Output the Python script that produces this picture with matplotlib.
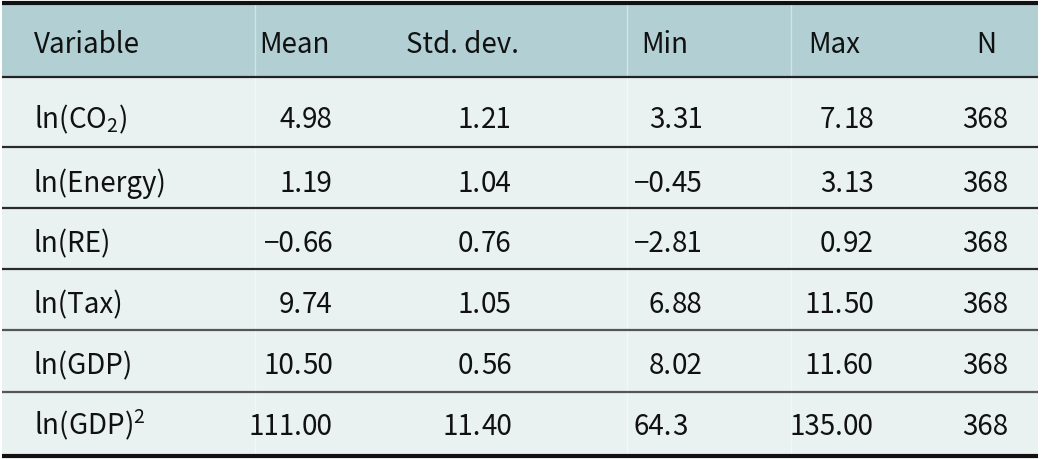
import matplotlib
matplotlib.use("Agg")
import matplotlib.pyplot as plt

plt.rcParams['font.family'] = ['Noto Sans CJK SC', 'DejaVu Sans']
plt.rcParams['mathtext.fontset'] = 'custom'
plt.rcParams['mathtext.rm'] = 'Noto Sans CJK SC'
plt.rcParams['mathtext.default'] = 'rm'

# table content
variables = ["ln(CO$_2$)", "ln(Energy)", "ln(RE)", "ln(Tax)", "ln(GDP)", "ln(GDP)$^2$"]
mean = ["4.98", "1.19", "\u22120.66", "9.74", "10.50", "111.00"]
std_dev = ["1.21", "1.04", "0.76", "1.05", "0.56", "11.40"]
min_vals = ["3.31", "\u22120.45", "\u22122.81", "6.88", "8.02", "64.3"]
max_vals = ["7.18", "3.13", "0.92", "11.50", "11.60", "135.00"]
n_obs = ["368", "368", "368", "368", "368", "368"]
headers = ["Variable", "Mean", "Std. dev.", "Min", "Max", "N"]

W, H = 1042, 459
fig = plt.figure(figsize=(W / 100, H / 100), dpi=100)
ax = fig.add_axes([0, 0, 1, 1])
ax.set_xlim(0, W)
ax.set_ylim(H, 0)
ax.axis("off")

left, right = 2, 1038
head_top, head_bot = 4, 77
row_lines = [147, 208, 269, 330, 392, 456]

header_bg = "#b2cfd3"
body_bg = "#e9f1f1"
txt = "#111111"
fs = 20

ax.fill_between([left, right], head_top, head_bot, color=header_bg, lw=0)
ax.fill_between([left, right], head_bot, row_lines[-1], color=body_bg, lw=0)

# faint column separators
for xv in [255, 627, 791]:
    ax.plot([xv, xv], [head_top, row_lines[-1]], color="white", alpha=0.45, lw=1)

ax.plot([left, right], [3, 3], color="#111111", lw=3, solid_capstyle="butt")
ax.plot([left, right], [head_bot, head_bot], color="#222222", lw=1.6, solid_capstyle="butt")
for i, yl in enumerate(row_lines[:-1]):
    c = "#2a2a2a" if i < 3 else "#555555"
    ax.plot([left, right], [yl, yl], color=c, lw=1.6, solid_capstyle="butt")
ax.plot([left, right], [row_lines[-1], row_lines[-1]], color="#111111", lw=3, solid_capstyle="butt")

# header text
header_x = [34, 294, 462, 665, 834, 986]
for i, (h, hx) in enumerate(zip(headers, header_x)):
    ax.text(hx, 53, h, ha="left" if i == 0 else "center", va="baseline",
            fontsize=fs, color=txt)

baselines = [128, 192, 252, 313, 374, 435]
# decimal point positions for numeric columns
dot_x = [302, 481, 672, 843]
cols = [mean, std_dev, min_vals, max_vals]

for r, by in enumerate(baselines):
    ax.text(34, by, variables[r], ha="left", va="baseline", fontsize=fs, color=txt)
    for col, dx in zip(cols, dot_x):
        whole, frac = col[r].split(".")
        ax.text(dx, by, whole + ".", ha="right", va="baseline", fontsize=fs, color=txt)
        ax.text(dx, by, frac, ha="left", va="baseline", fontsize=fs, color=txt)
    ax.text(1008, by, n_obs[r], ha="right", va="baseline", fontsize=fs, color=txt)

fig.savefig("out.png", dpi=100, facecolor="white")
